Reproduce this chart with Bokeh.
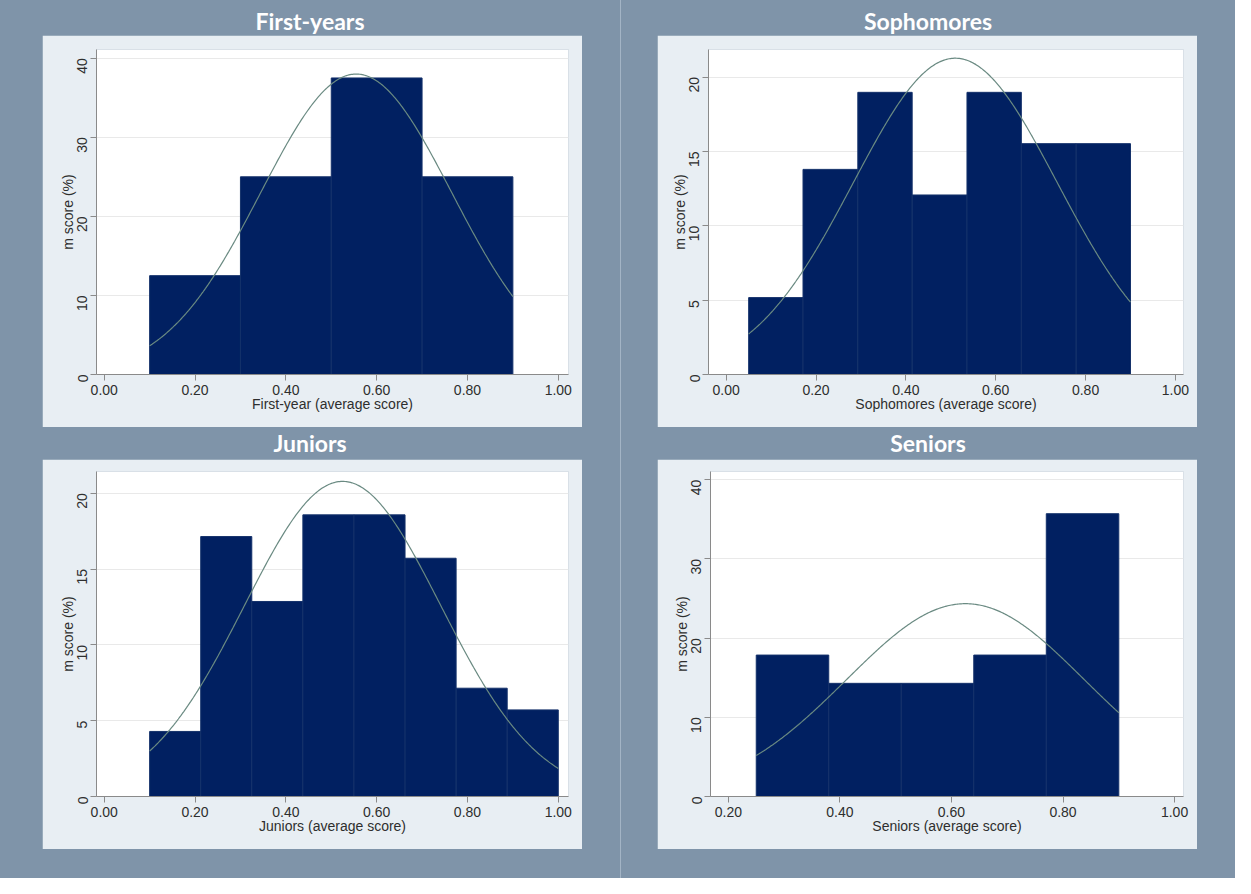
import math
import numpy as np
from bokeh.plotting import figure
from bokeh.layouts import row, column
from bokeh.models import Div, Spacer, FixedTicker, NumeralTickFormatter, Range1d
from bokeh.embed import file_html
from bokeh.resources import INLINE

# ---------------- data ----------------
titles = ["First-years", "Sophomores", "Juniors", "Seniors"]
x_labels = ["First-year (average score)", "Sophomores (average score)",
            "Juniors (average score)", "Seniors (average score)"]
y_label = "m score (%)"

first_edges = [0.10, 0.30, 0.50, 0.70, 0.90]
first_pct = [12.5, 25.0, 37.5, 25.0]
first_mean, first_sd = 0.555, 0.210

soph_edges = [0.050, 0.171, 0.293, 0.414, 0.536, 0.657, 0.779, 0.900]
soph_pct = [5.17, 13.79, 18.97, 12.07, 18.97, 15.52, 15.52]
soph_mean, soph_sd = 0.510, 0.227

jun_edges = [0.100, 0.2125, 0.325, 0.4375, 0.550, 0.6625, 0.775, 0.8875, 1.000]
jun_pct = [4.29, 17.14, 12.86, 18.57, 18.57, 15.71, 7.14, 5.71]
jun_mean, jun_sd = 0.525, 0.216

sen_edges = [0.25, 0.38, 0.51, 0.64, 0.77, 0.90]
sen_pct = [17.86, 14.29, 14.29, 17.86, 35.71]
sen_mean, sen_sd = 0.625, 0.213

x_ticks_a = [0.0, 0.2, 0.4, 0.6, 0.8, 1.0]
x_ticks_b = [0.2, 0.4, 0.6, 0.8, 1.0]
y_ticks_40 = [0, 10, 20, 30, 40]
y_ticks_20 = [0, 5, 10, 15, 20]

# ---------------- styles ----------------
STEEL = "#7f94a9"
LIGHT = "#e8eef3"
NAVY = "#012061"
EDGE = "#14316a"
CURVE = "#6a8a82"
AXIS = "#8a8a8a"
TXT = "#2e2e2e"
FONT = "Liberation Sans"


def make_fig(w, h, lb, rb, tb, bb, xr, yr, xticks, yticks, edges, pct, mean, sd, xlabel):
    p = figure(width=w, height=h, x_range=Range1d(*xr), y_range=Range1d(*yr),
               output_backend="svg", toolbar_location=None,
               min_border_left=lb, min_border_right=rb,
               min_border_top=tb, min_border_bottom=bb,
               background_fill_color="white", border_fill_color=LIGHT,
               outline_line_color=None)
    p.quad(left=edges[:-1], right=edges[1:], top=pct, bottom=0,
           fill_color=NAVY, line_color=EDGE, line_width=1)
    bw = edges[1] - edges[0]
    xs = np.linspace(edges[0], edges[-1], 300)
    ys = 100 * bw * np.exp(-0.5 * ((xs - mean) / sd) ** 2) / (sd * math.sqrt(2 * math.pi))
    p.line(xs, ys, line_color=CURVE, line_width=1.2)

    p.xgrid.visible = False
    p.ygrid.grid_line_color = "#e9e9e9"
    p.ygrid.ticker = FixedTicker(ticks=yticks)

    xa = p.xaxis[0]
    xa.ticker = FixedTicker(ticks=xticks)
    xa.formatter = NumeralTickFormatter(format="0.00")
    xa.axis_label = xlabel
    ya = p.yaxis[0]
    ya.ticker = FixedTicker(ticks=yticks)
    ya.axis_label = y_label
    ya.major_label_orientation = math.pi / 2
    for ax in (xa, ya):
        ax.axis_line_color = AXIS
        ax.major_tick_line_color = AXIS
        ax.minor_tick_line_color = None
        ax.major_tick_out = 6
        ax.major_tick_in = 0
        ax.major_label_text_font = FONT
        ax.major_label_text_font_size = "14px"
        ax.major_label_text_color = TXT
        ax.axis_label_text_font = FONT
        ax.axis_label_text_font_size = "14px"
        ax.axis_label_text_font_style = "normal"
        ax.axis_label_text_color = TXT
    xa.major_label_standoff = 4
    xa.axis_label_standoff = -2
    ya.major_label_standoff = 8
    ya.axis_label_standoff = -6
    return p


def title_div(text, w, h, shift):
    html = ('<div style="width:%dpx;height:%dpx;line-height:%dpx;text-align:center;'
            'position:relative;top:%dpx;'
            'color:white;font-family:Lato;font-weight:bold;font-size:23px;">%s</div>'
            % (w, h, h, shift, text))
    return Div(text=html, width=w, height=h, margin=0)


LW, RW = 620, 614
H1, H2 = 392, 390

f1 = make_fig(540, H1, 54, 14, 14, 53, (-0.017, 1.0225), (0, 41.1),
              x_ticks_a, y_ticks_40, first_edges, first_pct, first_mean, first_sd, x_labels[0])
f2 = make_fig(540, H1, 51, 14, 14, 53, (-0.0394, 1.018), (0, 21.85),
              x_ticks_a, y_ticks_20, soph_edges, soph_pct, soph_mean, soph_sd, x_labels[1])
f3 = make_fig(540, H2, 54, 14, 12, 53, (-0.017, 1.0225), (0, 21.43),
              x_ticks_a, y_ticks_20, jun_edges, jun_pct, jun_mean, jun_sd, x_labels[2])
f4 = make_fig(540, H2, 53, 14, 12, 53, (0.168, 1.016), (0, 41.04),
              x_ticks_b, y_ticks_40, sen_edges, sen_pct, sen_mean, sen_sd, x_labels[3])

left_col = column(
    title_div(titles[0], LW, 35, 4),
    row(Spacer(width=42, height=H1, margin=0), f1, Spacer(width=38, height=H1, margin=0), spacing=0),
    title_div(titles[2], LW, 32, 0),
    row(Spacer(width=42, height=H2, margin=0), f3, Spacer(width=38, height=H2, margin=0), spacing=0),
    Spacer(width=LW, height=29, margin=0),
    spacing=0)

right_col = column(
    title_div(titles[1], RW, 35, 4),
    row(Spacer(width=36, height=H1, margin=0), f2, Spacer(width=38, height=H1, margin=0), spacing=0),
    title_div(titles[3], RW, 32, 0),
    row(Spacer(width=36, height=H2, margin=0), f4, Spacer(width=38, height=H2, margin=0), spacing=0),
    Spacer(width=RW, height=29, margin=0),
    spacing=0)

divider = Spacer(width=1, height=878, margin=0, styles={"background-color": "#a3b4c5"})

layout = row(left_col, divider, right_col, spacing=0,
             styles={"background-color": STEEL})

open("out.html", "w").write(file_html(layout, INLINE))
